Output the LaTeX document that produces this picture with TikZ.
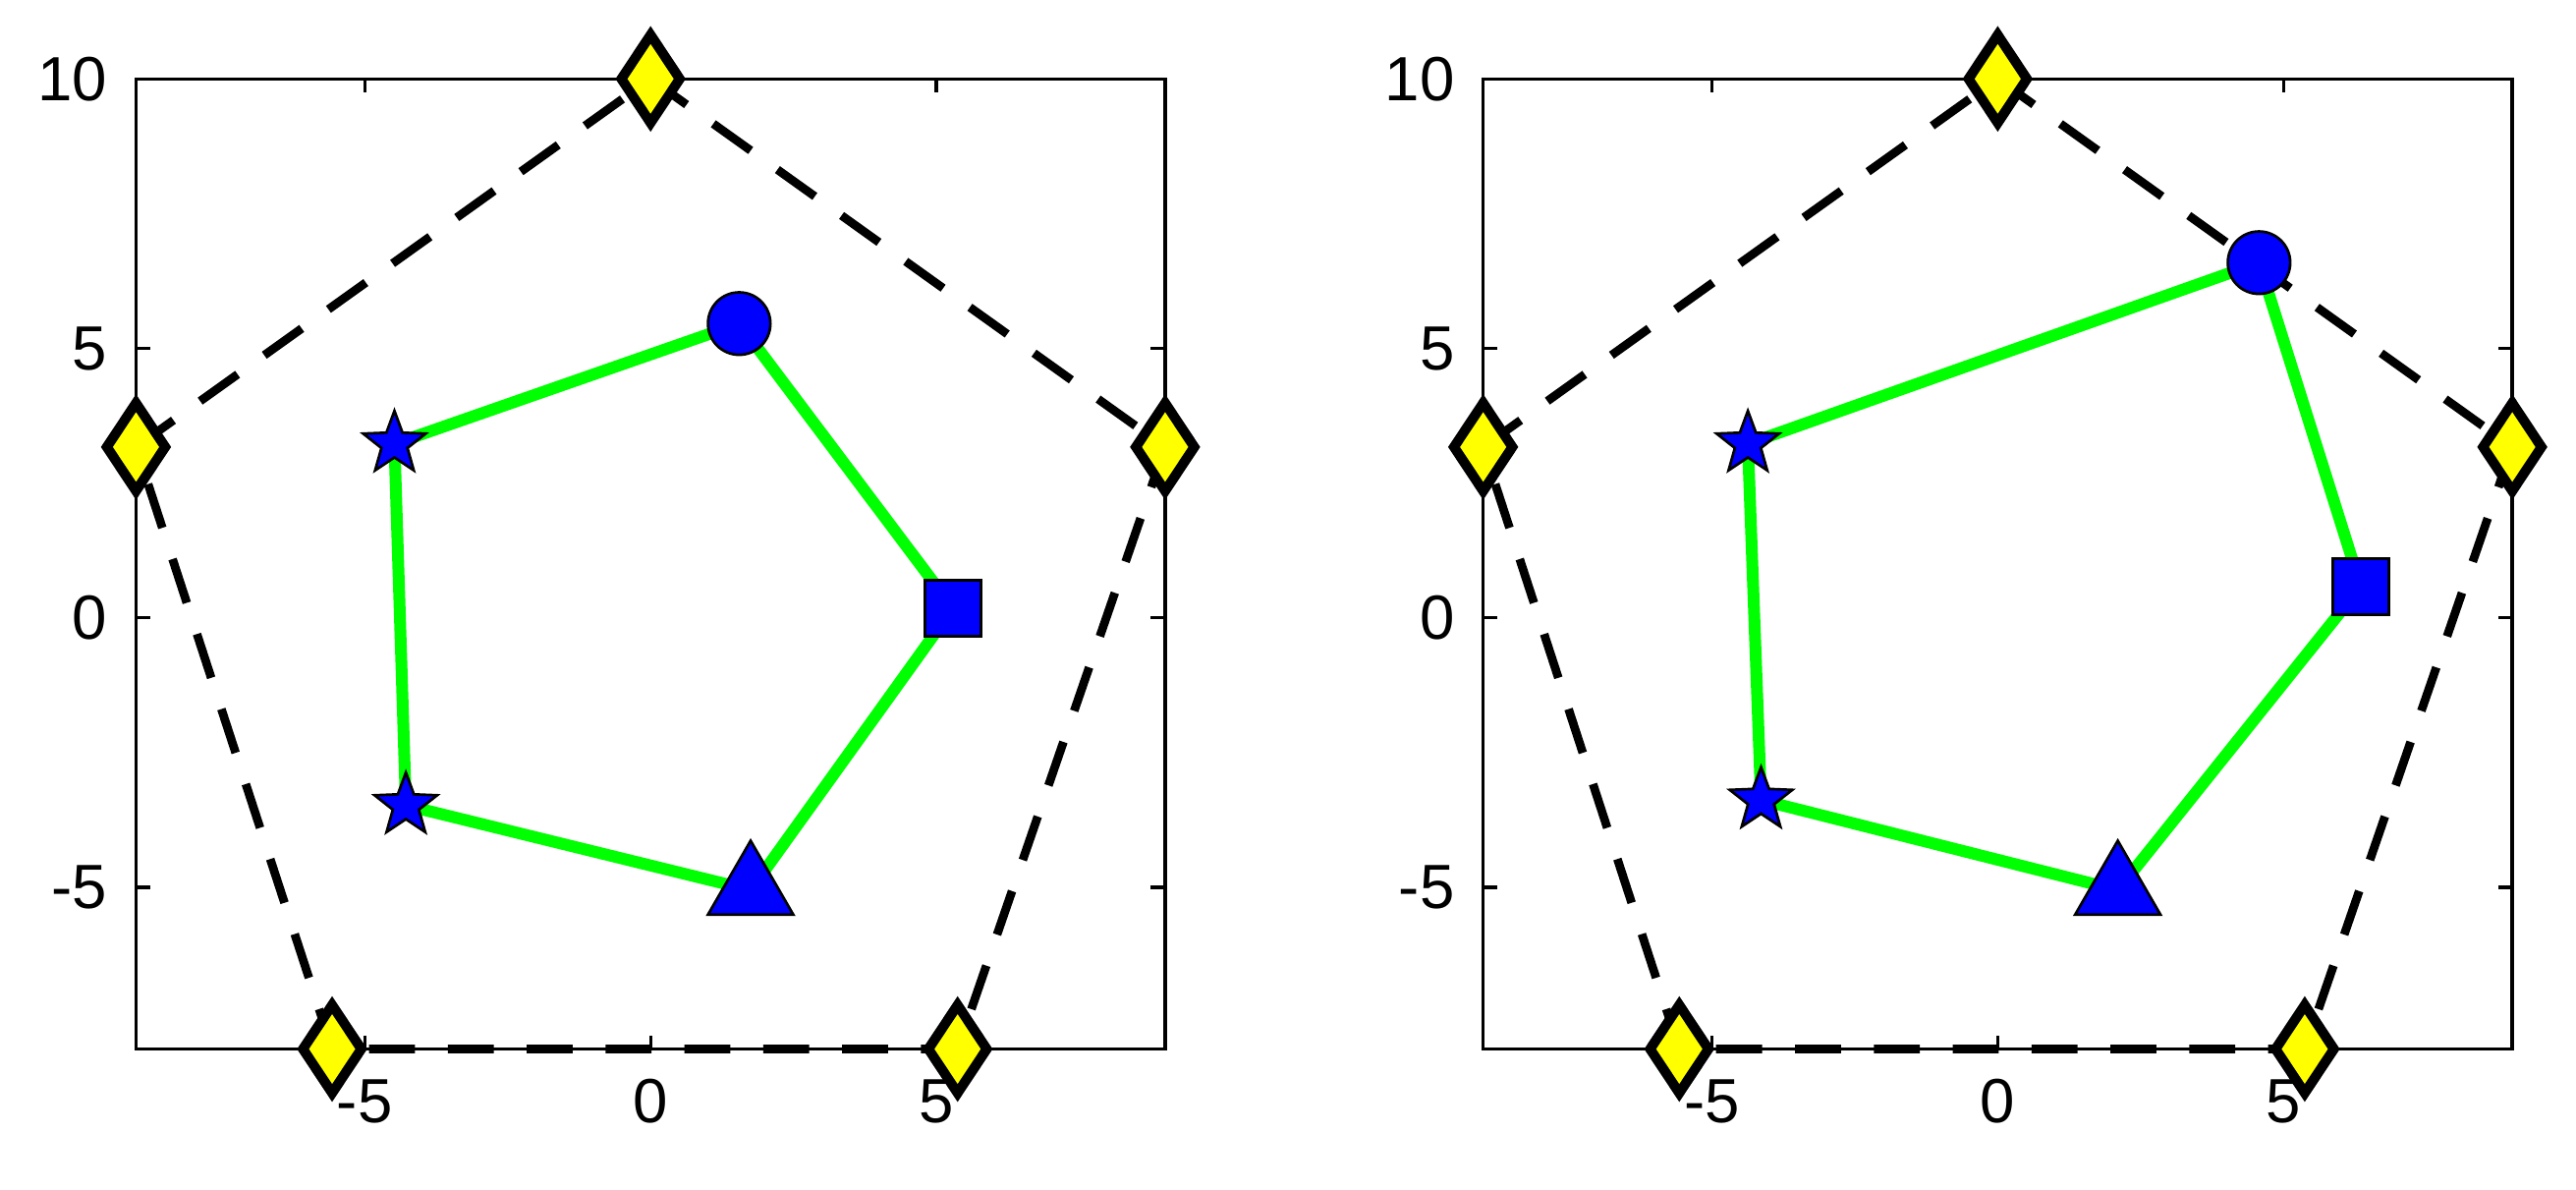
\documentclass[tikz,border=0pt]{standalone}
\usepackage{fontspec}
\setmainfont{Liberation Sans}
\usetikzlibrary{shapes.geometric,backgrounds}
\definecolor{mgreen}{RGB}{0,255,0}
\definecolor{myellow}{RGB}{255,255,0}
\begin{document}
\begin{tikzpicture}[x=0.5pt,y=-0.5pt,
  dia/.style={diamond,draw=black,line width=3pt,fill=myellow,minimum width=19pt,minimum height=28pt,inner sep=0pt},
  circ/.style={circle,draw=black,line width=0.8pt,fill=blue,minimum size=19pt,inner sep=0pt},
  sq/.style={rectangle,draw=black,line width=0.8pt,fill=blue,minimum size=17pt,inner sep=0pt},
  tri/.style={regular polygon,regular polygon sides=3,draw=black,line width=0.8pt,fill=blue,minimum size=30pt,inner sep=0pt},
  str/.style={star,star points=5,star point ratio=2.4,draw=black,line width=0.8pt,fill=blue,minimum size=20pt,inner sep=0pt},
  gline/.style={mgreen,line width=3.6pt},
  dline/.style={black,line width=2.6pt,dash pattern=on 14pt off 10pt},
  tick/.style={font=\fontsize{19}{22}\selectfont}]
\useasboundingbox (0,0) rectangle (1568,724);
\foreach \ox/\cx/\cy/\sx/\sy/\tx/\ty/\ax/\ay/\bx/\by/\p in
  {396/1.55/5.46/5.29/0.18/1.75/-5.05/-4.48/3.23/-4.28/-3.48/L,
   1216/4.57/6.59/6.35/0.58/2.1/-5.05/-4.37/3.23/-4.14/-3.38/R}{
\begin{scope}[shift={(\ox,376)},x=17.4pt,y=16.4pt]
  \draw[line width=1pt] (-9,-8) rectangle (9,10);
  \foreach \v in {-5,0,5}{
    \draw[line width=1pt] (\v,-8) -- ++(0,0.25) (\v,10) -- ++(0,-0.25);
    \node[tick,anchor=north] at (\v,-8.35) {\ifnum\v<0 -\number\numexpr-\v\relax\else\v\fi};}
  \foreach \v in {-5,0,5,10}{
    \draw[line width=1pt] (-9,\v) -- ++(0.25,0) (9,\v) -- ++(-0.25,0);
    \node[tick,anchor=east] at (-9.3,\v) {\ifnum\v<0 -\number\numexpr-\v\relax\else\v\fi};}
  \node[dia] (\p d1) at (0,10) {};
  \node[dia] (\p d2) at (-9,3.17) {};
  \node[dia] (\p d3) at (-5.57,-8) {};
  \node[dia] (\p d4) at (5.37,-8) {};
  \node[dia] (\p d5) at (9,3.17) {};
  \node[circ] (\p c) at (\cx,\cy) {};
  \node[sq] (\p s) at (\sx,\sy) {};
  \node[tri] (\p t) at (\tx,\ty) {};
  \node[str] (\p a) at (\ax,\ay) {};
  \node[str] (\p b) at (\bx,\by) {};
  \begin{scope}[on background layer]
    \draw[dline] (\p d2.center) -- (\p d1.center) -- (\p d5.center) -- (\p d4.center) -- (\p d3.center) -- (\p d2.center);
    \draw[gline] (\p a.center) -- (\p c.center) -- (\p s.center) -- (\p t.center) -- (\p b.center) -- (\p a.center);
  \end{scope}
\end{scope}}
\end{tikzpicture}
\end{document}
